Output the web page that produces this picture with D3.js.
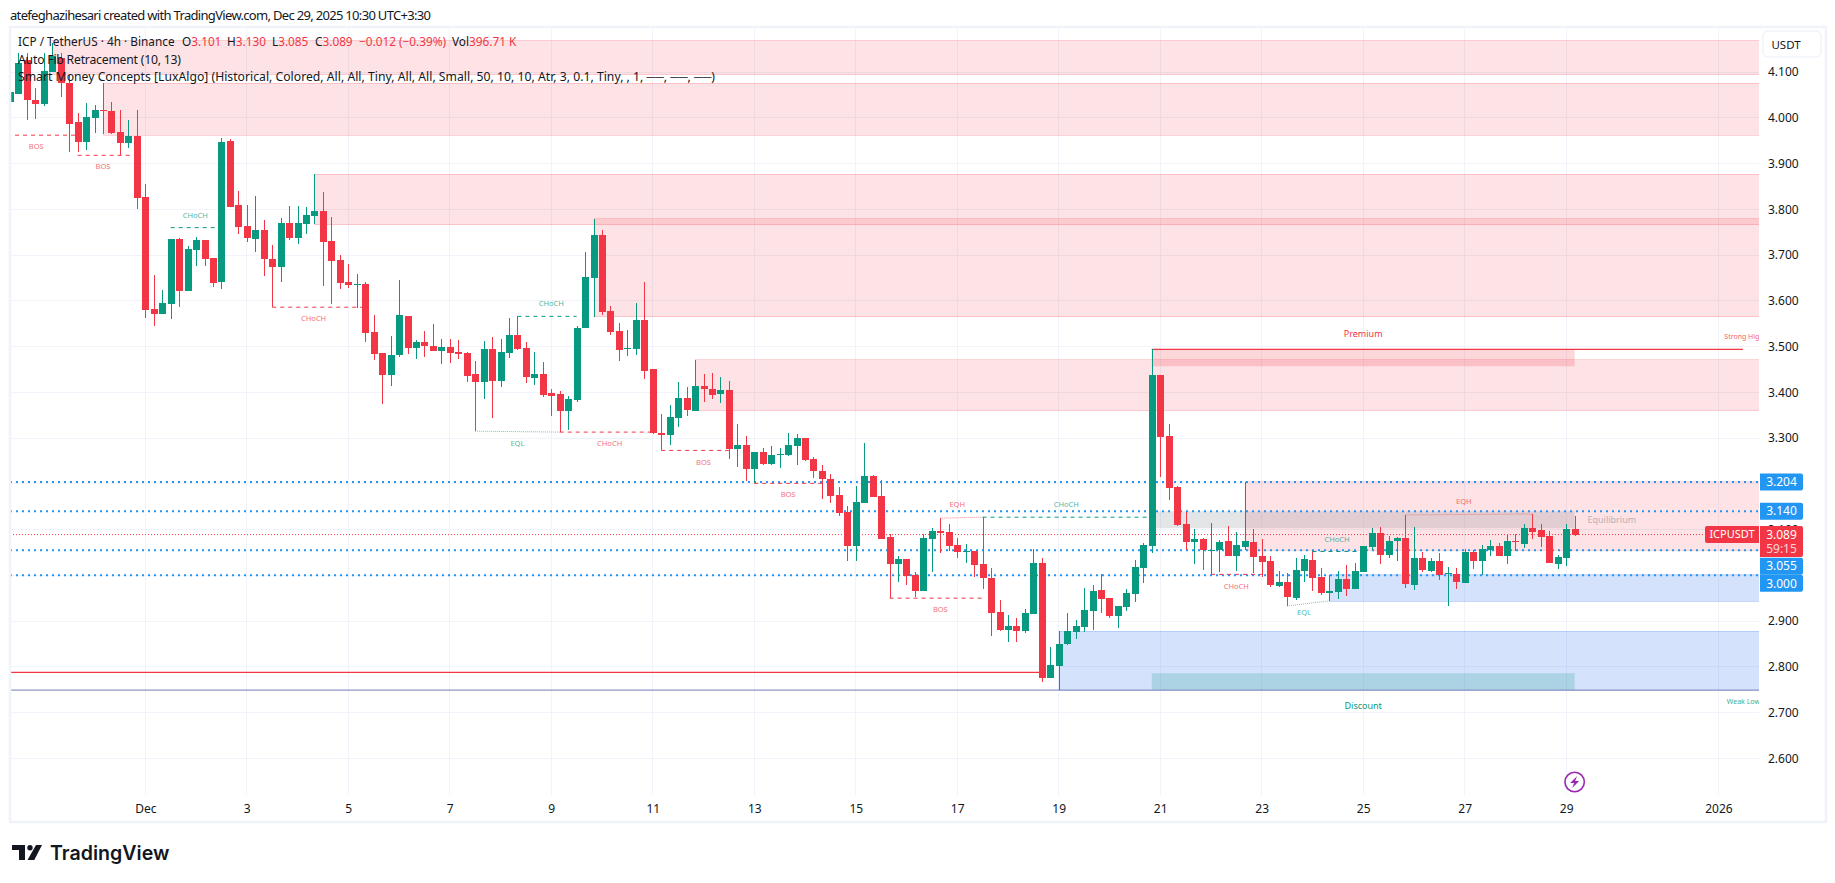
<!DOCTYPE html>
<html>
<head>
<meta charset="utf-8">
<title>ICPUSDT 4h</title>
<script src="https://cdn.jsdelivr.net/npm/d3@7"></script>
<style>
  html, body { margin: 0; background: #fff; }
  svg { display: block; }
  text { font-family: "Noto Sans", "Open Sans", sans-serif; fill: #131722; }
</style>
</head>
<body>
<div id="chart"></div>
<script>
// OHLC of the 4h candles (index 0 = left edge of the chart)
const opens = [
  4.035,4.052,4.126,4.039,4.030,4.100,4.130,4.076,3.991,3.947,
  4.000,4.017,4.015,3.969,3.945,3.960,3.827,3.582,3.571,3.593,
  3.735,3.621,3.711,3.733,3.694,3.641,3.949,3.809,3.764,3.735,
  3.755,3.691,3.674,3.770,3.737,3.768,3.785,3.796,3.731,3.689,
  3.641,3.635,3.637,3.532,3.486,3.438,3.482,3.567,3.497,3.510,
  3.501,3.490,3.499,3.488,3.486,3.440,3.423,3.495,3.425,3.486,
  3.525,3.497,3.431,3.440,3.398,3.396,3.359,3.383,3.541,3.650,
  3.744,3.578,3.534,3.495,3.495,3.558,3.451,3.311,3.307,3.344,
  3.388,3.359,3.414,3.407,3.396,3.405,3.276,3.285,3.232,3.270,
  3.243,3.264,3.263,3.283,3.300,3.254,3.228,3.210,3.175,3.138,
  3.064,3.158,3.217,3.173,3.084,3.025,3.036,3.001,2.966,3.079,
  3.097,3.095,3.066,3.052,3.053,3.025,2.994,2.920,2.880,2.889,
  2.878,2.915,3.027,2.776,2.802,2.850,2.876,2.887,2.922,2.968,
  2.950,2.911,2.931,2.959,3.016,3.064,3.438,3.305,3.193,3.112,
  3.073,3.079,3.054,3.055,3.075,3.042,3.062,3.073,3.042,3.031,
  2.977,2.985,2.950,3.009,3.033,2.996,2.961,2.964,2.992,2.970,
  3.007,3.062,3.092,3.044,3.075,3.082,2.979,3.038,3.009,3.031,
  3.003,3.003,2.983,3.051,3.031,3.055,3.064,3.042,3.075,3.068,
  3.103,3.099,3.086,3.025,3.038,3.101
];
const highs = [
  4.141,4.141,4.141,4.065,4.141,4.163,4.141,4.094,4.011,4.032,
  4.028,4.076,4.035,4.017,3.995,4.017,3.855,3.656,3.624,3.735,
  3.737,3.720,3.740,3.733,3.694,3.956,3.954,3.840,3.809,3.829,
  3.777,3.722,3.781,3.807,3.807,3.805,3.877,3.838,3.783,3.700,
  3.680,3.659,3.641,3.569,3.486,3.523,3.645,3.567,3.514,3.534,
  3.549,3.517,3.517,3.514,3.488,3.468,3.512,3.521,3.517,3.562,
  3.566,3.510,3.488,3.466,3.407,3.403,3.392,3.545,3.707,3.779,
  3.755,3.589,3.552,3.536,3.595,3.641,3.451,3.353,3.372,3.423,
  3.412,3.471,3.440,3.442,3.433,3.425,3.331,3.305,3.270,3.278,
  3.283,3.278,3.311,3.309,3.300,3.258,3.241,3.221,3.193,3.152,
  3.195,3.289,3.219,3.208,3.090,3.042,3.036,3.007,3.090,3.103,
  3.125,3.112,3.082,3.068,3.053,3.127,3.016,2.946,2.913,2.907,
  2.926,3.058,3.038,2.843,2.878,2.918,2.902,2.972,2.979,3.003,
  2.950,2.933,2.970,3.033,3.071,3.494,3.438,3.331,3.195,3.138,
  3.101,3.082,3.114,3.077,3.108,3.095,3.204,3.101,3.079,3.042,
  3.009,3.005,3.038,3.044,3.053,3.016,3.001,3.009,3.023,3.027,
  3.064,3.103,3.106,3.086,3.084,3.132,3.106,3.051,3.038,3.049,
  3.018,3.016,3.058,3.055,3.066,3.077,3.071,3.088,3.090,3.112,
  3.134,3.112,3.097,3.044,3.112,3.130
];
const lows = [
  4.035,4.052,3.995,3.997,4.026,4.100,4.046,3.925,3.925,3.930,
  3.967,3.965,3.965,3.919,3.934,3.801,3.562,3.545,3.571,3.560,
  3.587,3.621,3.676,3.676,3.630,3.626,3.805,3.746,3.729,3.707,
  3.654,3.586,3.641,3.733,3.724,3.746,3.768,3.632,3.593,3.626,
  3.628,3.584,3.510,3.471,3.374,3.414,3.477,3.484,3.473,3.477,
  3.490,3.462,3.464,3.473,3.423,3.315,3.385,3.344,3.412,3.475,
  3.493,3.420,3.416,3.390,3.348,3.313,3.318,3.379,3.541,3.565,
  3.569,3.525,3.468,3.479,3.482,3.429,3.309,3.273,3.285,3.324,
  3.348,3.359,3.379,3.385,3.377,3.254,3.237,3.206,3.201,3.241,
  3.241,3.235,3.261,3.241,3.250,3.213,3.167,3.158,3.130,3.031,
  3.031,3.158,3.171,3.079,2.950,2.985,2.979,2.953,2.966,3.007,
  3.049,3.053,3.038,3.027,2.996,2.970,2.867,2.878,2.854,2.854,
  2.874,2.915,2.767,2.776,2.749,2.848,2.861,2.876,2.880,2.918,
  2.907,2.885,2.922,2.942,2.983,3.049,3.215,3.165,3.108,3.055,
  3.025,3.012,3.001,3.007,3.042,3.009,3.055,3.005,2.996,2.974,
  2.974,2.933,2.946,2.985,2.966,2.957,2.944,2.948,2.955,2.970,
  3.007,3.055,3.025,3.038,3.031,2.972,2.968,3.007,3.007,2.990,
  2.933,2.970,2.983,3.014,3.001,3.042,3.042,3.025,3.053,3.060,
  3.079,3.062,3.027,3.014,3.020,3.085
];
const closes = [
  4.056,4.120,4.039,4.030,4.102,4.134,4.076,3.986,3.947,4.002,
  4.017,4.015,3.967,3.945,3.960,3.825,3.580,3.571,3.595,3.735,
  3.621,3.713,3.733,3.691,3.639,3.947,3.805,3.761,3.737,3.755,
  3.691,3.674,3.770,3.737,3.770,3.788,3.796,3.729,3.687,3.639,
  3.635,3.637,3.530,3.484,3.438,3.482,3.569,3.497,3.510,3.501,
  3.490,3.499,3.486,3.484,3.436,3.423,3.495,3.425,3.488,3.525,
  3.495,3.433,3.440,3.394,3.392,3.359,3.385,3.541,3.652,3.744,
  3.576,3.532,3.493,3.497,3.558,3.447,3.311,3.307,3.346,3.388,
  3.361,3.414,3.407,3.394,3.405,3.276,3.285,3.232,3.270,3.243,
  3.263,3.265,3.285,3.300,3.252,3.228,3.210,3.173,3.136,3.064,
  3.160,3.217,3.171,3.079,3.025,3.036,2.998,2.966,3.082,3.097,
  3.092,3.064,3.051,3.053,3.023,2.994,2.918,2.880,2.889,2.878,
  2.918,3.027,2.776,2.804,2.850,2.878,2.889,2.924,2.966,2.948,
  2.911,2.933,2.961,3.018,3.066,3.438,3.302,3.191,3.110,3.073,
  3.079,3.055,3.055,3.073,3.042,3.066,3.075,3.040,3.029,2.979,
  2.985,2.953,3.012,3.036,2.994,2.961,2.966,2.992,2.970,3.009,
  3.064,3.092,3.044,3.075,3.082,2.981,3.038,3.012,3.031,3.001,
  3.005,2.985,3.051,3.031,3.058,3.064,3.042,3.075,3.073,3.103,
  3.095,3.084,3.027,3.040,3.101,3.089
];

// axis ticks (3.000 and 3.200 have a grid line but their label is covered by a badge)
const priceTicks = [2.6,2.7,2.8,2.9,3.0,3.1,3.2,3.3,3.4,3.5,3.6,3.7,3.8,3.9,4.0,4.1];
const priceLabels = [2.6,2.7,2.8,2.9,3.1,3.3,3.4,3.5,3.6,3.7,3.8,3.9,4.0,4.1];
const dateTickIndex = [16,28,40,52,64,76,88,100,112,124,136,148,160,172,184,202];
const dateTickLabels = ["Dec","3","5","7","9","11","13","15","17","19","21","23","25","27","29","2026"];

// order blocks that run to the right edge of the plot
const supplyFrom = [5,11,36,69,81,146];
const supplyTop = [4.169,4.076,3.877,3.779,3.471,3.204];
const supplyBottom = [4.094,3.962,3.766,3.565,3.360,3.055];
const demandFrom = [156,124];
const demandTop = [3.001,2.878];
const demandBottom = [2.943,2.749];

// premium / equilibrium / discount bands
const bandNames = ["Premium","Equilibrium","Discount"];
const bandFrom = [135,135,135];
const bandTo = [185,185,185];
const bandTop = [3.494,3.140,2.786];
const bandBottom = [3.457,3.103,2.749];

// Auto Fib levels
const fibLevels = [3.204,3.140,3.055,3.000];

// structure breaks and equal highs / lows
const structNames = ["BOS","BOS","CHoCH","CHoCH","EQL","CHoCH","CHoCH","BOS","BOS","BOS","EQH","CHoCH","CHoCH","EQL","CHoCH","EQH"];
const structBull = [false,false,true,false,true,false,true,false,false,false,false,true,false,true,true,false];
const structFrom = [0.6,8,19,31,55,65,60,77,88,104,110,115,142,151,154,165];
const structTo = [7.7,14.6,25,42,65,76,67,85,96,115,115,135,148,156,160,180];
const structStart = [3.962,3.918,3.760,3.586,3.315,3.313,3.566,3.273,3.201,2.950,3.125,3.127,3.002,2.933,3.052,3.132];
const structEnd = [3.962,3.918,3.760,3.586,3.313,3.313,3.566,3.273,3.201,2.950,3.127,3.127,3.002,2.944,3.052,3.134];
const structLabelAt = [3.1,11,21.9,35.9,60,70.9,64,82,92,110,112,124.9,145,153,156.9,171.9];

// strong high / weak low and the level lines
const strongHigh = 3.494;
const strongHighFrom = 135;
const strongHighTo = 204.9;
const swingLow = 2.788;
const swingLowTo = 122;
const weakLow = 2.749;

const lastPrice = 3.089;
const legendLabels = ["O","H","L","C"];
const legendValues = ["3.101","3.130","3.085","3.089"];

// layout
const width = 1835;
const height = 883;
const plot = { left: 10, right: 1759, top: 28, bottom: 795 };
const red = "#F23645";
const green = "#089981";
const blue = "#2196F3";

const x = d3.scaleLinear().domain([0, 206.8]).range([plot.left, plot.right]);
const y = d3.scaleLinear().domain([2.6, 4.1]).range([758.3, 72.05]);

const svg = d3.select("#chart").append("svg")
    .attr("width", width)
    .attr("height", height);

svg.append("defs").append("clipPath").attr("id", "plot-clip")
  .append("rect")
    .attr("x", plot.left)
    .attr("y", plot.top)
    .attr("width", plot.right - plot.left)
    .attr("height", plot.bottom - plot.top);

// header above the chart
svg.append("text")
    .attr("x", 10)
    .attr("y", 19.5)
    .attr("font-size", 13)
    .attr("textLength", 421)
    .text("atefeghazihesari created with TradingView.com, Dec 29, 2025 10:30 UTC+3:30");

// grid
const grid = svg.append("g").attr("stroke", "#f0f3fa").attr("shape-rendering", "crispEdges");
grid.selectAll(".h").data(priceTicks).enter().append("line")
    .attr("x1", plot.left).attr("x2", plot.right)
    .attr("y1", d => y(d)).attr("y2", d => y(d));
grid.selectAll(".v").data(dateTickIndex).enter().append("line")
    .attr("x1", d => x(d)).attr("x2", d => x(d))
    .attr("y1", plot.top).attr("y2", plot.bottom);

const chart = svg.append("g").attr("clip-path", "url(#plot-clip)");

// zones go under the candles
function drawZones(from, top, bottom, fill, edge) {
  chart.append("g").selectAll("rect").data(from).enter().append("rect")
      .attr("x", d => x(d))
      .attr("y", (d, i) => y(top[i]))
      .attr("width", d => plot.right - x(d))
      .attr("height", (d, i) => y(bottom[i]) - y(top[i]))
      .attr("fill", fill);
  // only top and bottom edges have a border
  const edges = chart.append("g").attr("stroke", edge).attr("shape-rendering", "crispEdges");
  [top, bottom].forEach(level => {
    edges.append("g").selectAll("line").data(from).enter().append("line")
        .attr("x1", d => x(d)).attr("x2", plot.right)
        .attr("y1", (d, i) => y(level[i])).attr("y2", (d, i) => y(level[i]));
  });
}
drawZones(supplyFrom, supplyTop, supplyBottom, "rgba(242,54,69,0.14)", "rgba(242,54,69,0.2)");
drawZones(demandFrom, demandTop, demandBottom, "rgba(33,100,240,0.19)", "rgba(33,100,240,0.2)");

const bandFill = ["rgba(242,54,69,0.2)", "rgba(120,123,134,0.2)", "rgba(8,153,129,0.2)"];
chart.append("g").selectAll("rect").data(bandNames).enter().append("rect")
    .attr("x", (d, i) => x(bandFrom[i]))
    .attr("y", (d, i) => y(bandTop[i]))
    .attr("width", (d, i) => x(bandTo[i]) - x(bandFrom[i]))
    .attr("height", (d, i) => y(bandBottom[i]) - y(bandTop[i]))
    .attr("fill", (d, i) => bandFill[i]);

// fib levels and the last price line
chart.append("g").selectAll("line").data(fibLevels).enter().append("line")
    .attr("x1", plot.left).attr("x2", plot.right)
    .attr("y1", d => y(d)).attr("y2", d => y(d))
    .attr("stroke", blue)
    .attr("stroke-width", 2)
    .attr("stroke-dasharray", "2 4");
chart.append("line")
    .attr("x1", plot.left).attr("x2", plot.right)
    .attr("y1", y(lastPrice)).attr("y2", y(lastPrice))
    .attr("stroke", red)
    .attr("stroke-dasharray", "1 2");

// swing lines
chart.append("line")
    .attr("x1", plot.left).attr("x2", x(swingLowTo))
    .attr("y1", y(swingLow)).attr("y2", y(swingLow))
    .attr("stroke", red).attr("stroke-width", 1.2);
chart.append("line")
    .attr("x1", x(strongHighFrom)).attr("x2", x(strongHighTo))
    .attr("y1", y(strongHigh)).attr("y2", y(strongHigh))
    .attr("stroke", red).attr("stroke-width", 1.2);
chart.append("line")
    .attr("x1", plot.left).attr("x2", plot.right)
    .attr("y1", y(weakLow)).attr("y2", y(weakLow))
    .attr("stroke", "#8c96c4").attr("stroke-width", 1.4);

// candles
const candles = d3.range(opens.length);
const candleColor = i => closes[i] >= opens[i] ? green : red;
const bodyWidth = 7;
chart.append("g").attr("shape-rendering", "crispEdges").selectAll("line").data(candles).enter().append("line")
    .attr("x1", i => Math.round(x(i)) + 0.5)
    .attr("x2", i => Math.round(x(i)) + 0.5)
    .attr("y1", i => y(highs[i]))
    .attr("y2", i => y(lows[i]))
    .attr("stroke", candleColor);
chart.append("g").attr("shape-rendering", "crispEdges").selectAll("rect").data(candles).enter().append("rect")
    .attr("x", i => Math.round(x(i)) - 3)
    .attr("y", i => y(Math.max(opens[i], closes[i])))
    .attr("width", bodyWidth)
    .attr("height", i => Math.max(1, Math.abs(y(opens[i]) - y(closes[i]))))
    .attr("fill", candleColor);

// structure lines with their small labels
const isEqual = name => name === "EQH" || name === "EQL";
const structColor = i => structBull[i] ? green : red;
chart.append("g").selectAll("line").data(structNames).enter().append("line")
    .attr("x1", (d, i) => x(structFrom[i]))
    .attr("x2", (d, i) => x(structTo[i]))
    .attr("y1", (d, i) => y(structStart[i]))
    .attr("y2", (d, i) => y(structEnd[i]))
    .attr("stroke", (d, i) => structColor(i))
    .attr("stroke-dasharray", d => isEqual(d) ? "1 1" : "4 4")
    .attr("opacity", d => isEqual(d) ? 0.55 : 1);
chart.append("g").selectAll("text").data(structNames).enter().append("text")
    .attr("x", (d, i) => x(structLabelAt[i]))
    .attr("y", (d, i) => {
      const above = d === "EQH" || (d === "CHoCH" && structBull[i]);
      return y(structEnd[i]) + (above ? -12.5 : 11.5);
    })
    .attr("dy", "0.35em")
    .attr("text-anchor", "middle")
    .attr("font-size", 7.5)
    .attr("opacity", 0.72)
    .style("fill", (d, i) => structColor(i))
    .text(d => d);

// band names
chart.append("text").attr("x", x(160)).attr("y", 334).attr("dy", "0.35em")
    .attr("text-anchor", "middle").attr("font-size", 9).style("fill", red).text(bandNames[0]);
chart.append("text").attr("x", x(189.4)).attr("y", 520).attr("dy", "0.35em")
    .attr("text-anchor", "middle").attr("font-size", 9).style("fill", "#787b86").attr("opacity", 0.5).text(bandNames[1]);
chart.append("text").attr("x", x(160)).attr("y", 706).attr("dy", "0.35em")
    .attr("text-anchor", "middle").attr("font-size", 9).style("fill", green).text(bandNames[2]);
chart.append("text").attr("x", x(202.7)).attr("y", 337).attr("dy", "0.35em")
    .attr("font-size", 7).style("fill", red).attr("opacity", 0.8).text("Strong High");
chart.append("text").attr("x", x(203)).attr("y", 702).attr("dy", "0.35em")
    .attr("font-size", 7).style("fill", green).attr("opacity", 0.8).text("Weak Low");

// legend, written on top of the chart
const legend = svg.append("g").attr("font-size", 12.2);
const line1 = legend.append("text").attr("y", 46).attr("font-size", 11.8);
line1.append("tspan").attr("x", 18).text("ICP / TetherUS · 4h · Binance");
const legendX = [182, 227, 272, 315];
legendLabels.forEach((label, i) => {
  line1.append("tspan").attr("x", legendX[i]).text(label);
  line1.append("tspan").style("fill", red).text(legendValues[i]);
});
line1.append("tspan").attr("x", 359).style("fill", red).text("−0.012 (−0.39%)");
line1.append("tspan").attr("x", 452).text("Vol");
line1.append("tspan").style("fill", red).text("396.71 K");
legend.append("text").attr("x", 18).attr("y", 63.5).attr("textLength", 163).text("Auto Fib Retracement (10, 13)");
legend.append("text").attr("x", 18).attr("y", 80.5).attr("textLength", 697)
    .text("Smart Money Concepts [LuxAlgo] (Historical, Colored, All, All, Tiny, All, All, Small, 50, 10, 10, Atr, 3, 0.1, Tiny, , 1, ──, ──, ──)");

// axes
const priceAxis = d3.axisRight(y).tickValues(priceLabels).tickFormat(d3.format(".3f")).tickSize(0).tickPadding(9);
const yAxis = svg.append("g").attr("transform", `translate(${plot.right},0)`).call(priceAxis);
const dateAxis = d3.axisBottom(x).tickValues(dateTickIndex).tickFormat((d, i) => dateTickLabels[i]).tickSize(0).tickPadding(9);
const xAxis = svg.append("g").attr("transform", `translate(0,${plot.bottom})`).call(dateAxis);
[yAxis, xAxis].forEach(axis => {
  axis.select(".domain").remove();
  axis.selectAll("text").attr("font-size", 12).style("font-family", '"Noto Sans", sans-serif').style("fill", "#131722");
});

// price badges: overlapping ones get pushed down
const badgeShift = [0, 0, 16, 8];
const badges = svg.append("g");
badges.selectAll("path").data(fibLevels).enter().append("path")
    .attr("d", (d, i) => {
      const top = y(d) + badgeShift[i] - 8.5;
      return `M1760,${top}h41a2,2 0 0 1 2,2v13a2,2 0 0 1 -2,2h-41z`;
    })
    .attr("fill", blue);
badges.selectAll("text").data(fibLevels).enter().append("text")
    .attr("x", 1781.5)
    .attr("y", (d, i) => y(d) + badgeShift[i])
    .attr("dy", "0.35em")
    .attr("text-anchor", "middle")
    .attr("font-size", 12)
    .style("fill", "#fff")
    .text(d => d3.format(".3f")(d));

// last price badge with the countdown
const lastTop = y(lastPrice) - 8.5;
svg.append("path").attr("d", `M1760,${lastTop}h41a2,2 0 0 1 2,2v27a2,2 0 0 1 -2,2h-41z`).attr("fill", red);
svg.append("path").attr("d", `M1759,${lastTop}h-52a2,2 0 0 0 -2,2v13a2,2 0 0 0 2,2h52z`).attr("fill", red);
svg.append("text").attr("x", 1781.5).attr("y", y(lastPrice)).attr("dy", "0.35em")
    .attr("text-anchor", "middle").attr("font-size", 12).style("fill", "#fff").text(d3.format(".3f")(lastPrice));
svg.append("text").attr("x", 1781.5).attr("y", y(lastPrice) + 14).attr("dy", "0.35em")
    .attr("text-anchor", "middle").attr("font-size", 12).style("fill", "rgba(255,255,255,0.8)").text("59:15");
svg.append("text").attr("x", 1732).attr("y", y(lastPrice)).attr("dy", "0.35em")
    .attr("text-anchor", "middle").attr("font-size", 11).style("fill", "#fff").text("ICPUSDT");

// currency button
svg.append("rect").attr("x", 1763).attr("y", 31).attr("width", 58).attr("height", 26).attr("rx", 5)
    .attr("fill", "#fff").attr("stroke", "#f0f3fa").attr("stroke-width", 1.5);
svg.append("text").attr("x", 1786).attr("y", 44.5).attr("dy", "0.35em").attr("text-anchor", "middle")
    .attr("font-size", 11.5).text("USDT");

// frame around the chart
svg.append("rect")
    .attr("x", 10).attr("y", 27)
    .attr("width", 1816).attr("height", 795)
    .attr("fill", "none")
    .attr("stroke", "#f0f3fa")
    .attr("stroke-width", 2.5);

// bolt marker under the last candle
const bolt = svg.append("g").attr("transform", `translate(${x(opens.length - 1)},782)`);
bolt.append("circle").attr("r", 9.7).attr("fill", "none").attr("stroke", "#9c27b0").attr("stroke-width", 1.6);
bolt.append("path").attr("d", "M2.5,-6 L-4.5,1 L-0.5,1 L-2.5,6 L4.5,-1 L0.5,-1 Z").attr("fill", "#9c27b0");

// TradingView logo
const logo = svg.append("g").attr("fill", "#131722");
logo.append("path").attr("d", "M12,845H25V860H19V850H12Z");
logo.append("circle").attr("cx", 30).attr("cy", 847.7).attr("r", 2.7);
logo.append("path").attr("d", "M36,845H42L34.3,860H27.5Z");
svg.append("text")
    .attr("x", 50)
    .attr("y", 860)
    .attr("font-size", 19.6)
    .attr("font-weight", 600)
    .style("font-family", "Inter, sans-serif")
    .text("TradingView");
</script>
</body>
</html>
